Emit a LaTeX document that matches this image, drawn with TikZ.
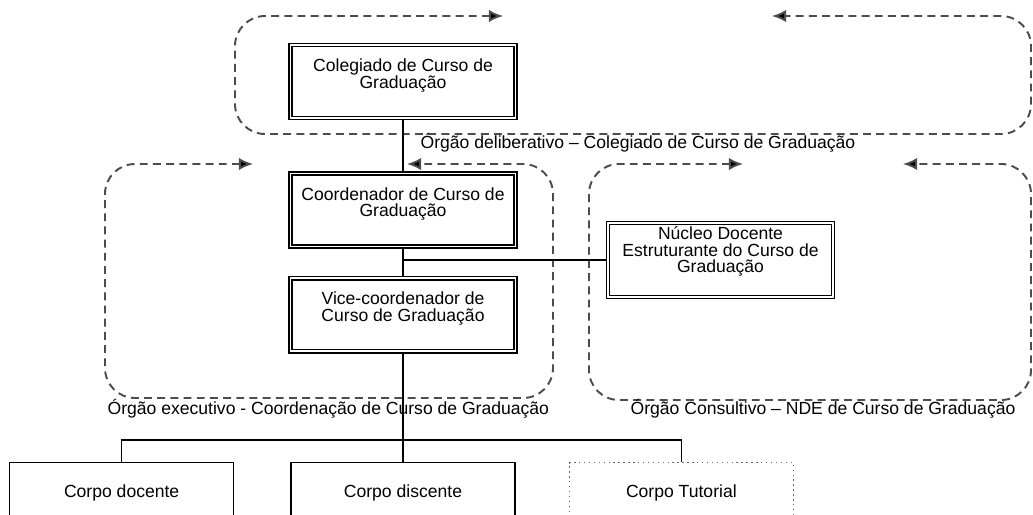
\documentclass[tikz,border=0pt]{standalone}
\usepackage{fontspec}
\setmainfont{Liberation Sans}
\usetikzlibrary{positioning,calc,arrows.meta}

\begin{document}
\begin{tikzpicture}[
            x=0.02cm, y=-0.02cm,
            node distance=0.6cm,
            font=\fontsize{10}{9.4}\selectfont,
            main node/.style={rectangle,draw,double,double distance=1pt,line width=0.9pt,align=center,minimum width=4.5cm,minimum height=1.46cm,text depth=9pt,inner sep=0pt},
            body node/.style={rectangle,draw,line width=0.8pt,minimum width=4.48cm,minimum height=1.2cm,inner sep=0pt},
            loop line/.style={draw=black!70,line width=1.1pt,dash pattern=on 4.5pt off 3pt,rounded corners=0.6cm,<->},
            label node/.style={anchor=west,inner sep=0pt},
            every path/.style={line width=0.7pt},
            >={Latex[length=8pt,width=7pt,fill=black]},
        ]
            \useasboundingbox (0,0) rectangle (1033,514);

            \node[main node] (colegiado) at (403,81.5) {Colegiado de Curso de\\Graduação};
            \node[main node, below=1.08cm of colegiado] (coord) {Coordenador de Curso de\\Graduação};
            \node[main node, below=of coord] (vice) {Vice-coordenador de\\Curso de Graduação};
            \node[main node, text depth=11.5pt, minimum height=1.48cm] (nde) at (720.5,260) {Núcleo Docente\\Estruturante do Curso de\\Graduação};

            \node[body node, below=2.2cm of vice] (discente) {Corpo discente};
            \node[body node, left=1.12cm of discente] (docente) {Corpo docente};
            \node[body node, right=1.06cm of discente, dotted, draw=black!60] (tutorial) {Corpo Tutorial};

            % dashed loops round each organ
            \path[loop line] (503,16) -- (235,16) -- (235,134) -- (1031,134) -- (1031,16) -- (772,16);
            \path[loop line] (253,164) -- (105,164) -- (105,398) -- (553,398) -- (553,164) -- (407,164);
            \path[loop line] (743,164) -- (589,164) -- (589,400) -- (1031,400) -- (1031,164) -- (903,164);

            \node[label node] (deliberativo) at (420,143) {Órgão deliberativo – Colegiado de Curso de Graduação};
            \node[label node] (executivo) at (107,409) {Órgão executivo - Coordenação de Curso de Graduação};
            \node[label node] (consultivo) at (630,409) {Órgão Consultivo – NDE de Curso de Graduação};

            \draw (colegiado) -- (coord);
            \draw (coord) -- (vice);
            \draw (vice) -- (discente);
            \draw (nde.west) -- (nde.west -| coord.south);
            \coordinate (branch) at ($(vice.south)!0.8!(discente.north)$);
            \draw (docente.north) -- (docente.north |- branch) -- (tutorial.north |- branch) -- (tutorial.north);
        \end{tikzpicture}
\end{document}
